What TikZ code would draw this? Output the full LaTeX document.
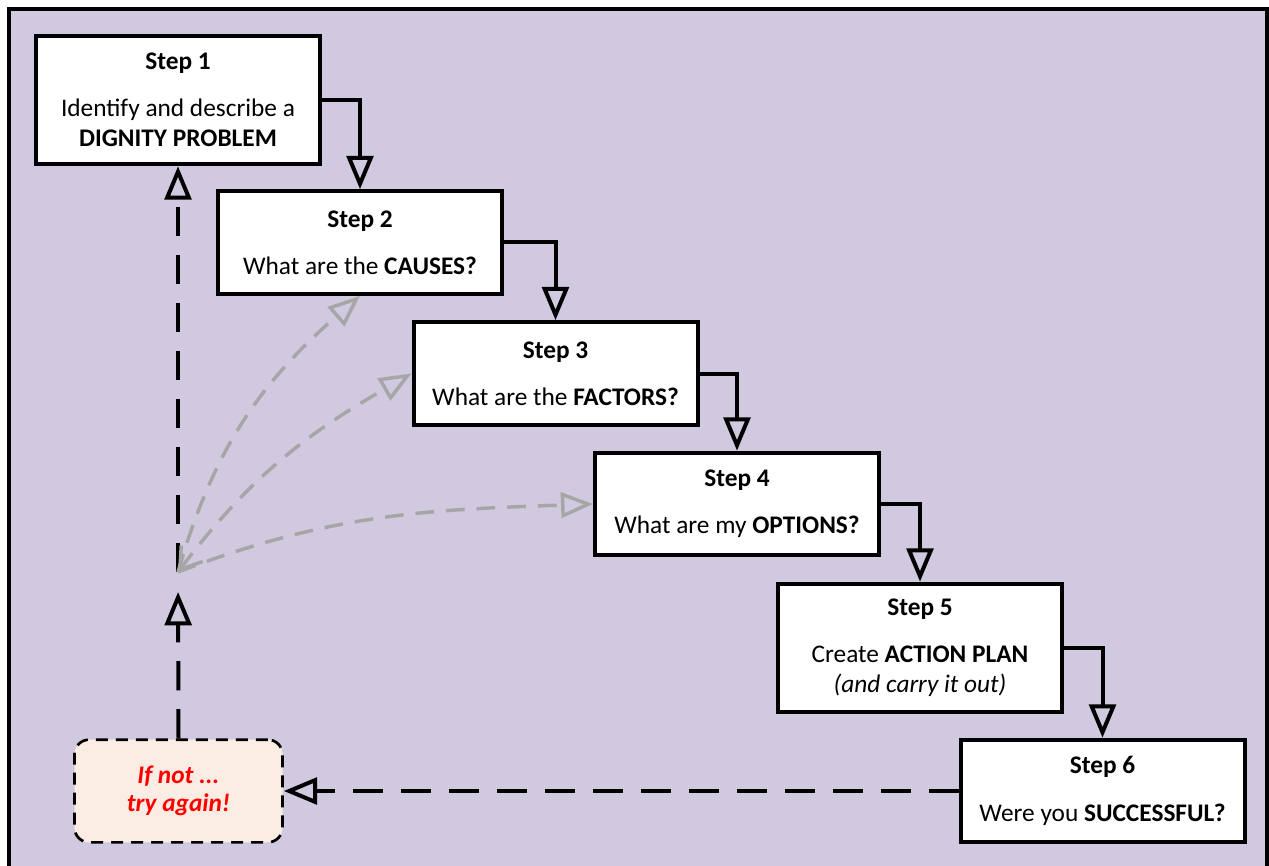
\documentclass[tikz,border=0pt]{standalone}
\usepackage{fontspec}
\setmainfont{Carlito}
\usetikzlibrary{arrows.meta}

\definecolor{framebg}{RGB}{209,201,224}
\definecolor{retrybg}{RGB}{252,237,228}
\definecolor{linkgrey}{RGB}{166,166,166}

\tikzset{
	stepbox/.style={draw, line width=3pt, fill=white, align=center, minimum width=213pt, minimum height=77pt, font=\fontsize{19}{22.5}\selectfont},
	flow/.style={line width=3pt, -{Triangle[open, length=25pt, width=20pt]}},
	back/.style={flow, dash pattern=on 22pt off 14pt},
	link/.style={line width=2.6pt, linkgrey, dash pattern=on 14pt off 9pt, -{Triangle[open, length=24pt, width=19pt]}},
	linkboth/.style={link, {Straight Barb[length=15pt, width=20pt]}-{Triangle[open, length=24pt, width=19pt]}},
}

\begin{document}
\begin{tikzpicture}[x=0.75pt, y=0.75pt]
	\useasboundingbox (0,0) rectangle (1269,865);
	\draw[line width=2.5pt, fill=framebg] (9,-20) rectangle (1267,856);

	\node[stepbox, minimum height=96.5pt] (s1) at (178,765) {\textbf{Step 1}\\[13pt] Identify and describe a\\ \textbf{DIGNITY PROBLEM}};
	\node[stepbox] (s2) at (360,622.5) {\textbf{Step 2}\\[13pt] What are the \textbf{CAUSES?}};
	\node[stepbox] (s3) at (555.5,491.5) {\textbf{Step 3}\\[13pt] What are the \textbf{FACTORS?}};
	\node[stepbox] (s4) at (737,361) {\textbf{Step 4}\\[13pt] What are my \textbf{OPTIONS?}};
	\node[stepbox, minimum height=96.5pt] (s5) at (920,217) {\textbf{Step 5}\\[13pt] Create \textbf{ACTION PLAN}\\ \textit{(and carry it out)}};
	\node[stepbox] (s6) at (1102.5,74) {\textbf{Step 6}\\[13pt] Were you \textbf{SUCCESSFUL?}};

	\node[draw, rounded corners=11pt, dash pattern=on 9pt off 6pt, line width=2pt, fill=retrybg, minimum width=156pt, minimum height=77pt, align=center, text=red, font=\fontsize{19}{21}\selectfont\bfseries\itshape] (retry) at (178.5,74) {If not ...\\ try again!};
	\coordinate (hub) at (178,293);

	\draw[flow] (s1.east) -| (s2.north);
	\draw[flow] (s2.east) -| (s3.north);
	\draw[flow] (s3.east) -| (s4.north);
	\draw[flow] (s4.east) -| (s5.north);
	\draw[flow] (s5.east) -| (s6.north);

	\draw[back] (s6.west) -- (retry.east);
	\draw[back, shorten >=15pt] (retry.north) -- (hub);
	\draw[back] (hub) -- (s1.south);

	\draw[link] (hub) to[out=74, in=-139] (s2.south);
	\draw[linkboth] (hub) to[out=53, in=210] (s3.west);
	\draw[link] (hub) to[out=21, in=182] (s4.west);
\end{tikzpicture}
\end{document}
